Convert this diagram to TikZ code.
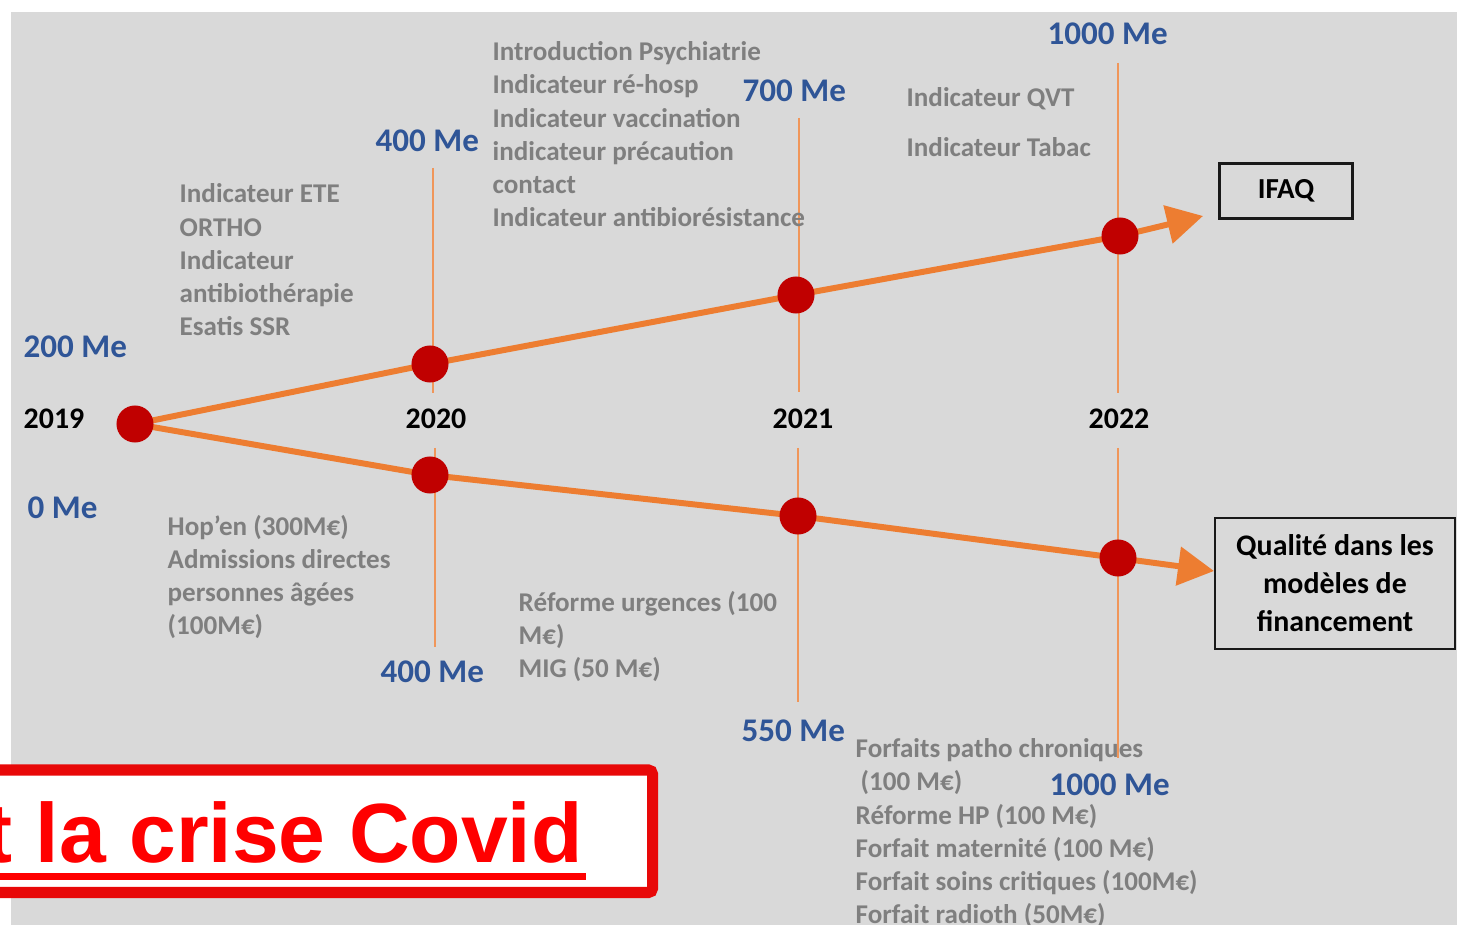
\documentclass[tikz,border=0pt]{standalone}
\usepackage{fontspec}
\setmainfont{Carlito}
\newfontfamily\arialfont{Liberation Sans}
\usetikzlibrary{arrows.meta}
\pgfdeclarelayer{bg}
\pgfsetlayers{bg,main}
\definecolor{bggray}{RGB}{217,217,217}
\definecolor{txtgray}{RGB}{127,127,127}
\definecolor{lblblue}{RGB}{47,85,151}
\definecolor{lineorange}{RGB}{237,125,49}
\definecolor{vorange}{RGB}{240,150,90}
\definecolor{dotred}{RGB}{192,0,0}
\definecolor{boxred}{RGB}{232,8,8}
\definecolor{textred}{RGB}{255,0,0}
\begin{document}
\begin{tikzpicture}[x=0.01cm,y=-0.01cm,
 graytext/.style={anchor=base west, inner sep=0, text=txtgray, font=\fontsize{7.7pt}{9.47pt}\selectfont\bfseries, align=left},
 bluetext/.style={anchor=base west, inner sep=0, text=lblblue, font=\fontsize{9.4pt}{11pt}\selectfont\bfseries},
 yeartext/.style={anchor=base west, inner sep=0, text=black, font=\fontsize{8.5pt}{10pt}\selectfont\bfseries},
 dot/.style={circle, fill=dotred, minimum size=0.37cm, inner sep=0},
 mainline/.style={draw=lineorange, line width=1.7pt, line join=round},
 vline/.style={draw=vorange, line width=0.6pt},
 labelbox/.style={draw=black!90, line width=0.7pt, fill=bggray, font=\fontsize{8.5pt}{10.8pt}\selectfont\bfseries, align=center, inner sep=0}]
\useasboundingbox (0,0) rectangle (1457,925);

% dots
\node[dot] (d19) at (135,424) {};
\node[dot] (u20) at (430,364) {};
\node[dot] (u21) at (796,295) {};
\node[dot] (u22) at (1120,236) {};
\node[dot] (l20) at (430,475) {};
\node[dot] (l21) at (798,516) {};
\node[dot] (l22) at (1118,558) {};
\coordinate (utip) at (1203,216);
\coordinate (ltip) at (1214,571);

% vertical guide ends
\coordinate (v20ut) at (433,168); \coordinate (v20ub) at (433,393);
\coordinate (v20lt) at (435,448); \coordinate (v20lb) at (435,647);
\coordinate (v21ut) at (799,118); \coordinate (v21ub) at (799,392);
\coordinate (v21lt) at (798,448); \coordinate (v21lb) at (798,702);
\coordinate (v22ut) at (1118,63); \coordinate (v22ub) at (1118,393);
\coordinate (v22lt) at (1118,448); \coordinate (v22lb) at (1118,758);

\begin{pgfonlayer}{bg}
\fill[bggray] (11,12) rectangle (1457,925);
\draw[vline] (v20ut) -- (v20ub);
\draw[vline] (v20lt) -- (v20lb);
\draw[vline] (v21ut) -- (v21ub);
\draw[vline] (v21lt) -- (v21lb);
\draw[vline] (v22ut) -- (v22ub);
\draw[vline] (v22lt) -- (v22lb);
\draw[mainline, -{Triangle[length=0.36cm, width=0.38cm]}] (d19.center) -- (u20.center) -- (u21.center) -- (u22.center) -- (utip);
\draw[mainline, -{Triangle[length=0.36cm, width=0.38cm]}] (d19.center) -- (l20.center) -- (l21.center) -- (l22.center) -- (ltip);
\end{pgfonlayer}

% boxes
\node[labelbox, minimum width=1.33cm, minimum height=0.55cm, font=\fontsize{8.25pt}{10pt}\selectfont\bfseries] (ifaq) at (1286,191) {IFAQ};
\node[labelbox, minimum width=2.40cm, minimum height=1.31cm] (qual) at (1335,583.5) {Qualité dans les\\modèles de\\financement};

% years
\node[yeartext] (y19) at (23,429) {2019};
\node[yeartext] (y20) at (405,429) {2020};
\node[yeartext] (y21) at (772,429) {2021};
\node[yeartext] (y22) at (1088,429) {2022};

% amounts
\node[bluetext] (a200) at (23,358) {200 Me};
\node[bluetext] (a400u) at (375,152) {400 Me};
\node[bluetext] (a700) at (742,102) {700 Me};
\node[bluetext] (a1000u) at (1047,45) {1000 Me};
\node[bluetext] (a0) at (27,519) {0 Me};
\node[bluetext] (a400l) at (380,683) {400 Me};
\node[bluetext] (a550) at (741,742) {550 Me};
\node[bluetext] (a1000l) at (1049,796) {1000 Me};

% gray texts (anchor = baseline of last line)
\node[graytext] (t1) at (179,336) {Indicateur ETE\\ORTHO\\Indicateur\\antibiothérapie\\Esatis SSR};
\node[graytext] (t2) at (492,227) {Introduction Psychiatrie\\Indicateur ré-hosp\\Indicateur vaccination\\indicateur précaution\\contact\\Indicateur antibiorésistance};
\node[graytext] (t3) at (906,107) {Indicateur QVT};
\node[graytext] (t4) at (906,157) {Indicateur Tabac};
\node[graytext] (t5) at (167,635) {Hop’en (300M€)\\Admissions directes\\personnes âgées\\(100M€)};
\node[graytext] (t6) at (518,678) {Réforme urgences (100\\M€)\\MIG (50 M€)};
\node[graytext] (t7) at (855,924) {Forfaits patho chroniques\\\hspace{0.05cm}(100 M€)\\Réforme HP (100 M€)\\Forfait maternité (100 M€)\\Forfait soins critiques (100M€)\\Forfait radioth (50M€)};

% red banner
\begin{scope}
\clip (0,0) rectangle (1457,925);
\draw[boxred, line width=3.13pt, fill=white, rounded corners=0.04cm] (-40,770) rectangle (652.5,892.5);
\node[anchor=base west, inner sep=0, text=textred, font=\arialfont\fontsize{23.9pt}{28pt}\selectfont\bfseries] (covid) at (-16,863) {t la crise Covid};
\draw[textred, line width=2pt] ([shift={(-10,13.5)}]covid.base west) -- ([shift={(3,13.5)}]covid.base east);
\end{scope}
\end{tikzpicture}
\end{document}
